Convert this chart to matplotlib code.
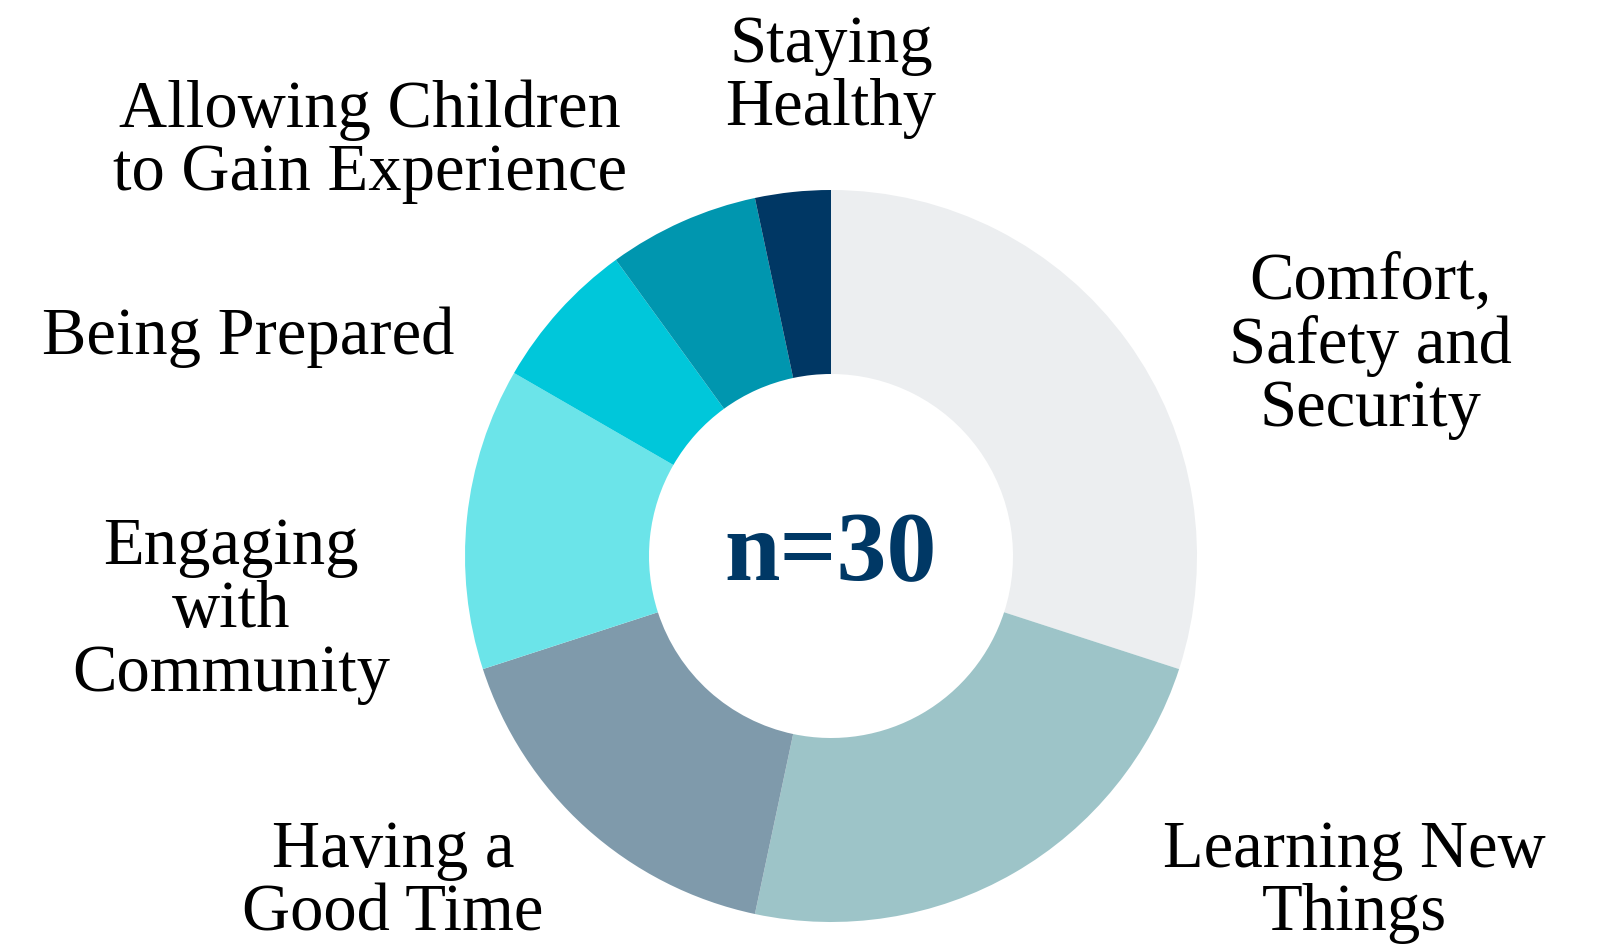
import matplotlib
matplotlib.use('Agg')
import matplotlib.pyplot as plt

# slices clockwise from 12 o'clock
labels = ['Comfort,\nSafety and\nSecurity', 'Learning New\nThings', 'Having a\nGood Time',
          'Engaging\nwith\nCommunity', 'Being Prepared', 'Allowing Children\nto Gain Experience',
          'Staying\nHealthy']
counts = [9, 7, 5, 4, 2, 2, 1]
colors = ['#ECEEF0', '#9DC4C8', '#7F9AAB', '#6BE4E9', '#00C7DA', '#0096AF', '#003764']
total_label = 'n=30'

# label anchor points, pixels from top-left
label_pos = [(1370, 346), (1354, 882), (393, 882), (231, 611), (248, 337), (370, 142), (831, 77)]

W, H = 1600, 945
fig = plt.figure(figsize=(16, 9.45), dpi=100)
ax = fig.add_axes([0, 0, 1, 1])

cx, cy, r = 831, H - 557, 366
ax.pie(counts, colors=colors, startangle=90, counterclock=False,
       center=(cx, cy), radius=r, frame=True,
       wedgeprops=dict(width=184, linewidth=0))
ax.set_xlim(0, W)
ax.set_ylim(0, H)
ax.set_aspect('equal')
ax.axis('off')

for lab, (x, y) in zip(labels, label_pos):
    ax.text(x, H - y, lab, ha='center', va='center', fontsize=48,
            family='Liberation Serif', color='black', linespacing=1.05)

ax.text(cx, H - 556, total_label, ha='center', va='center', fontsize=72,
        family='Liberation Serif', fontweight='bold', color='#003865')

fig.savefig('out.png', dpi=100)
